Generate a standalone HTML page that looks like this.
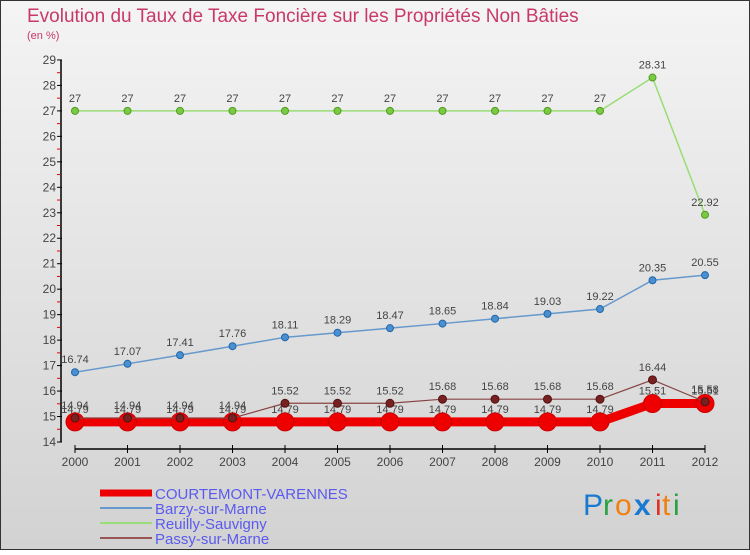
<!DOCTYPE html>
<html><head><meta charset="utf-8"><style>
body{margin:0;width:750px;height:550px;overflow:hidden;font-family:"Liberation Sans",sans-serif}
svg text{font-family:"Liberation Sans",sans-serif}
</style></head><body>
<svg id="c" width="750" height="550" xmlns="http://www.w3.org/2000/svg">
<defs><linearGradient id="bg" x1="0" y1="0" x2="0" y2="1"><stop offset="0" stop-color="#f4f4f4"/><stop offset="1" stop-color="#d2d2d2"/></linearGradient></defs>
<rect x="0.5" y="0.5" width="749" height="549" fill="url(#bg)" stroke="#333"/>
<text x="27" y="22" font-size="19" fill="#c8386a">Evolution du Taux de Taxe Foncière sur les Propriétés Non Bâties</text>
<text x="27" y="39" font-size="11" fill="#c8386a">(en %)</text>
<g id="axes"></g><g id="series"></g><g id="legend"></g>
<g font-size="30" font-family="Liberation Sans">
<text x="583" y="515" fill="#1a7ad0">P</text><text x="603" y="515" fill="#2aa040">r</text><text x="615" y="515" fill="#f08010">o</text><text x="634" y="515" fill="#1a7ad0" font-weight="bold">x</text><text x="655" y="515" fill="#e03020">i</text><text x="662" y="515" fill="#f08010">t</text><text x="673" y="515" fill="#2aa040">i</text>
</g>
</svg>
<script>
const years=[2000,2001,2002,2003,2004,2005,2006,2007,2008,2009,2010,2011,2012];
const courtemont=[14.79,14.79,14.79,14.79,14.79,14.79,14.79,14.79,14.79,14.79,14.79,15.51,15.51];
const barzy=[16.74,17.07,17.41,17.76,18.11,18.29,18.47,18.65,18.84,19.03,19.22,20.35,20.55];
const reuilly=[27,27,27,27,27,27,27,27,27,27,27,28.31,22.92];
const passy=[14.94,14.94,14.94,14.94,15.52,15.52,15.52,15.68,15.68,15.68,15.68,16.44,15.58];
const yTicks=[14,15,16,17,18,19,20,21,22,23,24,25,26,27,28,29];
const NS="http://www.w3.org/2000/svg";
const X=i=>75+i*52.5, Y=v=>442-(v-14)*25.47;
function mk(p,t,a){const e=document.createElementNS(NS,t);for(const k in a)e.setAttribute(k,a[k]);p.appendChild(e);return e;}
const ax=document.getElementById('axes');
let l=mk(ax,'line',{x1:61,y1:Y(29),x2:61,y2:Y(14),stroke:'#000','stroke-width':1.5});


l=mk(ax,'line',{x1:X(0),y1:449,x2:X(12),y2:449,stroke:'#000','stroke-width':1.5});


yTicks.forEach(v=>{
 mk(ax,'line',{x1:57,y1:Y(v),x2:62,y2:Y(v),stroke:'#000'});
 if(v<29)mk(ax,'line',{x1:57,y1:Y(v+0.5),x2:60,y2:Y(v+0.5),stroke:'#e00'});
 const t=mk(ax,'text',{x:56,y:Y(v)+4,'text-anchor':'end','font-size':12,fill:'#444'});t.textContent=v;
 
 
});
years.forEach((y,i)=>{
 mk(ax,'line',{x1:X(i),y1:445,x2:X(i),y2:453,stroke:'#000'});
 const t=mk(ax,'text',{x:X(i),y:466,'text-anchor':'middle','font-size':12,fill:'#444'});t.textContent=y;
 
 
});
const sg=document.getElementById('series');
function series(name,data,col,w,r,dot,stroke){
 const g=mk(sg,'g',{});
 
 
 mk(g,'polyline',{points:data.map((v,i)=>X(i)+','+Y(v)).join(' '),fill:'none',stroke:col,'stroke-width':w});
 data.forEach((v,i)=>{
  const c=mk(g,'circle',{cx:X(i),cy:Y(v),r:r,fill:dot,stroke:stroke,'stroke-width':1});
  
  
  const t=mk(g,'text',{x:X(i),y:Y(v)-9,'text-anchor':'middle','font-size':11,fill:'#444'});t.textContent=v;
  
  
 });
}
series('reuilly',reuilly,'#99dd77',1.5,3.5,'#77cc44','#559922');
series('barzy',barzy,'#6699cc',1.5,3.5,'#4a90d0','#2266aa');
series('courtemont',courtemont,'#ee0000',9,9,'#ee0000','#cc0000');
series('passy',passy,'#884444',1.2,4,'#772222','#551111');
const lg=document.getElementById('legend');
[['COURTEMONT-VARENNES','#ee0000',7],['Barzy-sur-Marne','#6699cc',2],['Reuilly-Sauvigny','#99dd77',2],['Passy-sur-Marne','#995555',2]].forEach((d,i)=>{
 const y=493+i*15;
 const g=mk(lg,'g',{});
 
 
 mk(g,'line',{x1:100,y1:y,x2:152,y2:y,stroke:d[1],'stroke-width':d[2]});
 const t=mk(g,'text',{x:155,y:y+6,'font-size':15,fill:'#5a5aee'});t.textContent=d[0];
});
</script>
</body></html>
